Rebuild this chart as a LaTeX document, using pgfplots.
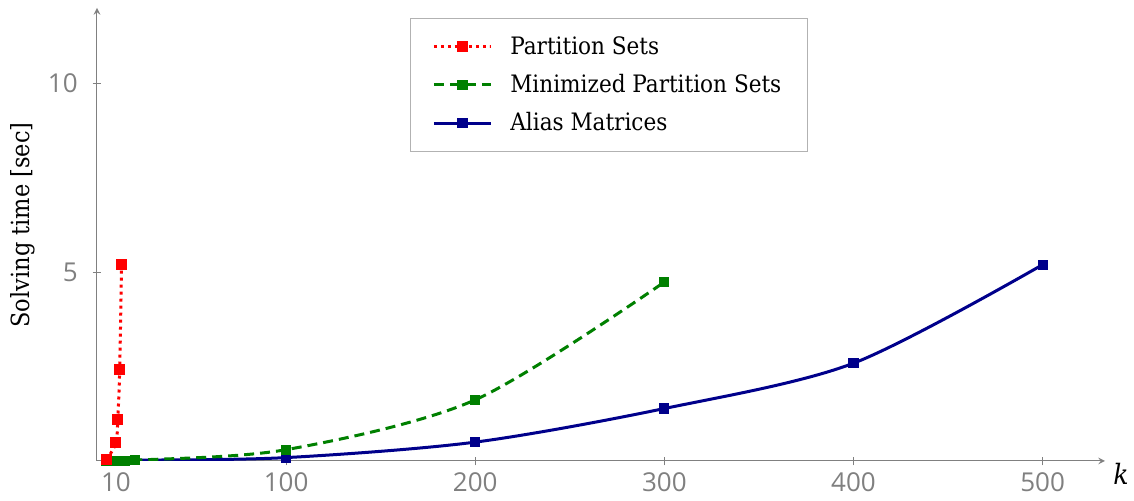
\documentclass[border=0pt]{standalone}
\usepackage{pgfplots}
\pgfplotsset{compat=1.18}
\usepackage{fontspec}
\setmainfont{DejaVu Serif Condensed}
\newfontfamily\tickfont{Open Sans}
\definecolor{myred}{RGB}{255,0,0}
\definecolor{mygreen}{RGB}{0,128,0}
\definecolor{myblue}{RGB}{0,0,139}
\begin{document}
\begin{tikzpicture}
\begin{axis}[
  scale only axis, width=504pt, height=226.5pt,
  xmin=0, xmax=533, ymin=0, ymax=12,
  axis lines=left,
  axis line style={gray, line width=0.5pt},
  xtick={10,100,200,300,400,500}, ytick={5,10},
  tick style={gray, line width=0.5pt},
  /pgf/number format/assume math mode=true,
  ticklabel style={font=\fontsize{13}{15}\selectfont\tickfont, text=gray},
  yticklabel style={xshift=-4pt},
  xlabel={\textit{k}},
  xlabel style={at={(ticklabel* cs:1)}, anchor=north west, inner sep=1pt, xshift=3pt, font=\fontsize{14}{16}\selectfont},
  ylabel={Solving time [sec]},
  ylabel style={at={(axis description cs:-0.0734,0.521)}, anchor=center, font=\fontsize{12.5}{14}\selectfont},
  legend style={at={(rel axis cs:0.3105,0.978)}, anchor=north west, draw=gray!60, line width=0.5pt,
    font=\fontsize{12}{14}\selectfont, inner xsep=11pt, inner ysep=7pt, row sep=4.5pt,
    /tikz/every odd column/.append style={column sep=7pt}},
  legend cell align=left,
  reverse legend,
  legend image code/.code={\draw[mark repeat=2,mark phase=2] plot coordinates {(0cm,0cm) (0.5cm,0cm) (1cm,0cm)};},
]
\addplot[myblue, line width=1.5pt, smooth, mark=square*, mark size=1.8pt, mark options={solid}]
  coordinates {(5,0.0) (10,0.01) (15,0.01) (20,0.02) (100,0.09) (200,0.50) (300,1.39) (400,2.59) (500,5.20)};
\addlegendentry{Alias Matrices}
\addplot[mygreen, line width=1.5pt, smooth, dash pattern=on 5pt off 3pt, mark=square*, mark size=1.8pt, mark options={solid}]
  coordinates {(5,0.0) (7,0.01) (8,0.01) (9,0.01) (10,0.01) (11,0.01) (12,0.01) (13,0.01) (14,0.01) (15,0.01) (20,0.02) (100,0.30) (200,1.62) (300,4.74)};
\addlegendentry{Minimized Partition Sets}
\addplot[myred, line width=1.5pt, smooth, dotted, mark=square*, mark size=2pt, mark options={solid}]
  coordinates {(5,0.03) (10,0.48) (11,1.11) (12,2.43) (13,5.21)};
\addlegendentry{Partition Sets}
\end{axis}
\pgfresetboundingbox
\path[use as bounding box] (-48.5pt,-20pt) rectangle (518.5pt,230.5pt);
\end{tikzpicture}
\end{document}
